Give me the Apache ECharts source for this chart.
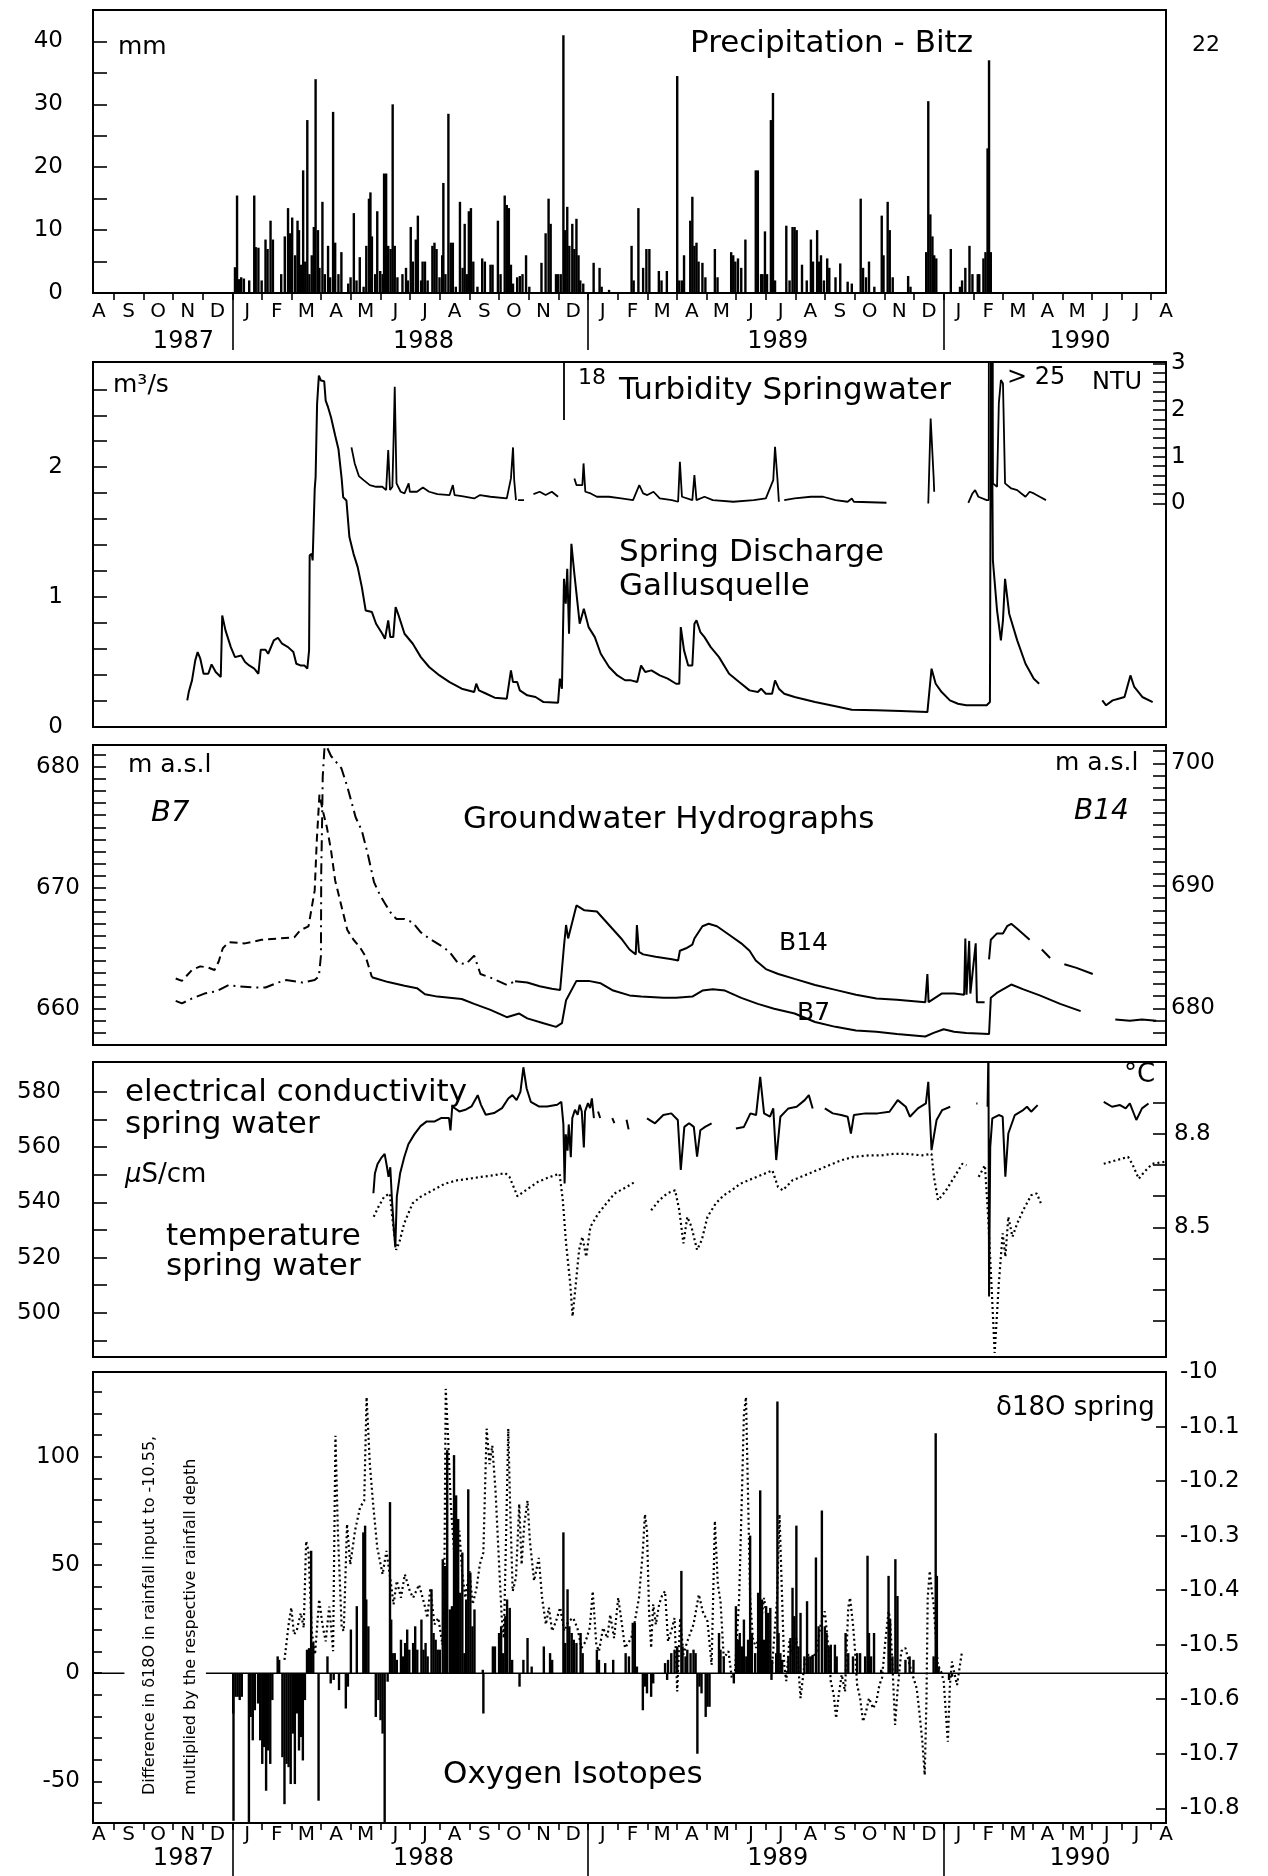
<!DOCTYPE html>
<html><head><meta charset="utf-8">
<script src="https://cdn.jsdelivr.net/npm/echarts@6.0.0/dist/echarts.min.js"></script>
<style>html,body{margin:0;padding:0;background:#fff}#c{width:1268px;height:1876px}</style>
</head><body><div id="c"></div>
<script>
// x values are months counted from 1 Aug 1987 (5 = 1 Jan 1988, 17 = 1 Jan 1989, 29 = 1 Jan 1990)
const MONTH_LETTERS = ['A','S','O','N','D','J','F','M','A','M','J','J'];
const YEAR_LABELS = ['1987','1988','1989','1990'];
const YEAR_LABEL_POS = [3.35, 11.45, 23.4, 33.6];
const YEAR_BREAKS = [5, 17, 29];

const P1_Y_LABELS = [0,10,20,30,40];
const P2_Q_LABELS = [0,1,2];
const P2_NTU_LABELS = [0,1,2,3];
const P3_B7_LABELS = [660,670,680];
const P3_B14_LABELS = [680,690,700];
const P4_EC_LABELS = [500,520,540,560,580];
const P4_T_LABELS = [8.5,8.8];
const P5_DIFF_LABELS = [-50,0,50,100];
const P5_D18O_LABELS = [-10.8,-10.7,-10.6,-10.5,-10.4,-10.3,-10.2,-10.1,-10.0];

// daily precipitation Bitz (mm)
const PRECIP = [[5.09,4.1],[5.16,15.5],[5.23,2.2],[5.30,2.5],[5.39,2.3],[5.57,2],[5.74,15.5],[5.79,7.3],[5.88,7.2],[5.99,2],[6.12,8.5],[6.19,7],[6.29,11.5],[6.37,8.5],[6.65,3],[6.77,9],[6.88,13.5],[6.95,9.5],[7.02,12],[7.12,6],[7.20,11.5],[7.25,10],[7.32,4.5],[7.39,19.5],[7.46,5],[7.53,27.5],[7.60,3],[7.68,6],[7.75,10.5],[7.81,34],[7.89,10],[7.94,4],[8.04,14.5],[8.12,3],[8.23,7.5],[8.30,2.5],[8.40,28.8],[8.47,8],[8.58,3],[8.68,6.5],[8.91,1.5],[8.99,2.5],[9.10,12.7],[9.19,2],[9.30,5.7],[9.43,1],[9.52,7.5],[9.61,15],[9.66,16],[9.71,9],[9.82,3],[9.89,13],[9.99,3.5],[10.07,3],[10.12,19],[10.19,19],[10.26,7.5],[10.34,7],[10.41,30],[10.48,7.5],[10.57,2.5],[10.74,3],[10.86,4],[10.92,2],[11.02,10.5],[11.09,5],[11.19,8.5],[11.26,12.3],[11.37,2],[11.42,5],[11.50,5],[11.59,2],[11.75,7.5],[11.82,8],[11.89,7],[11.99,2.5],[12.08,6],[12.12,17.5],[12.19,3],[12.29,28.5],[12.37,8],[12.44,8],[12.54,1],[12.68,14.5],[12.77,4],[12.84,11],[12.91,3],[12.98,13],[13.05,13.5],[13.13,5],[13.27,1],[13.43,5.5],[13.52,5],[13.71,4.5],[13.78,4.5],[13.96,11.5],[14.05,3],[14.19,15.5],[14.26,14],[14.33,13.5],[14.40,4.5],[14.47,1.5],[14.61,2.5],[14.70,2.7],[14.79,3],[14.91,6],[15.02,1],[15.43,4.8],[15.57,9.5],[15.67,15],[15.74,11],[15.92,3],[15.99,3],[16.08,3],[16.17,41],[16.23,10],[16.30,13.7],[16.37,7.5],[16.47,11],[16.54,7],[16.61,11.8],[16.68,6],[16.74,2],[16.84,1.5],[17.19,4.8],[17.39,4],[17.46,1],[17.71,0.5],[18.47,7.5],[18.54,2],[18.70,13.5],[18.86,4],[18.97,7],[19.07,7],[19.39,3.5],[19.48,2],[19.66,3.5],[20.01,34.5],[20.08,2],[20.17,2],[20.24,6],[20.45,11.5],[20.52,15.3],[20.59,7.5],[20.66,8],[20.73,5],[20.86,4.8],[20.96,2.5],[21.28,7],[21.37,2.5],[21.83,6.5],[21.90,6],[21.97,5],[22.06,5.5],[22.17,4],[22.31,8.5],[22.66,19.5],[22.73,19.5],[22.84,3],[22.89,3],[22.97,9.8],[23.04,3],[23.17,27.5],[23.24,31.8],[23.31,2],[23.69,10.7],[23.80,2],[23.90,10.5],[23.97,10.5],[24.04,10],[24.22,4.5],[24.38,2],[24.52,8.5],[24.59,5],[24.73,10],[24.80,5],[24.86,6],[24.96,2],[25.07,5.5],[25.14,4],[25.35,2.5],[25.51,4.7],[25.76,1.8],[25.90,1.5],[26.20,15],[26.28,4],[26.38,2.5],[26.48,5],[26.66,1],[26.91,12.3],[26.97,6],[27.11,14.5],[27.18,10],[27.28,2.5],[27.80,2.7],[27.88,1],[28.41,6.5],[28.48,30.5],[28.55,12.5],[28.62,9],[28.68,6],[28.75,5.5],[29.24,7],[29.55,1],[29.62,2],[29.73,4],[29.87,7.5],[29.97,3],[30.15,3],[30.20,3],[30.34,5.5],[30.41,6.5],[30.48,23],[30.53,37],[30.59,6.5]];

// spring discharge Gallusquelle (m3/s)
const DISCHARGE = [[3.48,0.205],[3.53,0.269],[3.64,0.359],[3.75,0.513],[3.83,0.577],[3.92,0.526],[4.03,0.41],[4.19,0.41],[4.30,0.482],[4.44,0.423],[4.61,0.385],[4.66,0.859],[4.77,0.744],[4.95,0.615],[5.09,0.538],[5.30,0.551],[5.43,0.5],[5.57,0.474],[5.74,0.449],[5.88,0.41],[5.96,0.595],[6.12,0.595],[6.21,0.564],[6.40,0.667],[6.54,0.687],[6.68,0.641],[6.88,0.615],[7.06,0.577],[7.16,0.487],[7.30,0.474],[7.43,0.474],[7.53,0.449],[7.59,0.59],[7.61,1.321],[7.68,1.333],[7.71,1.282],[7.78,1.833],[7.81,1.923],[7.86,2.487],[7.92,2.705],[7.99,2.667],[8.10,2.662],[8.15,2.513],[8.23,2.462],[8.33,2.385],[8.47,2.244],[8.58,2.141],[8.69,1.91],[8.74,1.769],[8.85,1.744],[8.95,1.462],[9.09,1.333],[9.23,1.231],[9.37,1.077],[9.50,0.897],[9.71,0.885],[9.85,0.795],[10.06,0.718],[10.15,0.679],[10.26,0.821],[10.33,0.692],[10.43,0.692],[10.51,0.923],[10.61,0.859],[10.81,0.718],[11.09,0.641],[11.36,0.538],[11.64,0.462],[11.99,0.397],[12.33,0.346],[12.74,0.295],[13.16,0.269],[13.23,0.333],[13.32,0.282],[13.57,0.256],[13.85,0.226],[14.26,0.218],[14.40,0.436],[14.47,0.346],[14.61,0.346],[14.70,0.282],[14.95,0.244],[15.23,0.231],[15.50,0.192],[15.99,0.187],[16.05,0.372],[16.12,0.295],[16.19,1.141],[16.25,0.949],[16.30,1.218],[16.36,0.718],[16.44,1.41],[16.54,1.179],[16.72,0.795],[16.86,0.91],[17.02,0.769],[17.23,0.692],[17.43,0.564],[17.71,0.462],[17.99,0.397],[18.25,0.36],[18.45,0.359],[18.66,0.346],[18.79,0.474],[18.93,0.423],[19.14,0.436],[19.42,0.397],[19.69,0.372],[19.97,0.333],[20.08,0.333],[20.13,0.769],[20.24,0.59],[20.38,0.474],[20.52,0.474],[20.59,0.795],[20.66,0.821],[20.79,0.731],[20.93,0.692],[21.14,0.615],[21.42,0.538],[21.76,0.41],[22.10,0.346],[22.45,0.282],[22.73,0.269],[22.84,0.295],[23.0,0.256],[23.21,0.256],[23.31,0.359],[23.44,0.295],[23.62,0.256],[23.97,0.231],[24.66,0.192],[25.35,0.159],[25.90,0.133],[26.73,0.128],[27.55,0.123],[28.45,0.115],[28.59,0.449],[28.73,0.333],[28.93,0.269],[29.21,0.205],[29.48,0.179],[29.76,0.167],[30.45,0.167],[30.56,0.192],[30.60,3.3],[30.66,1.282],[30.80,0.897],[30.93,0.667],[31.0,0.821],[31.07,1.141],[31.21,0.872],[31.48,0.667],[31.76,0.487],[32.04,0.372],[32.22,0.333],null,[34.35,0.205],[34.48,0.167],[34.7,0.205],[34.9,0.218],[35.1,0.231],[35.3,0.397],[35.43,0.308],[35.7,0.231],[36.05,0.192]];

// turbidity spring water (NTU)
const TURBIDITY = [[9.02,1.2],[9.13,0.857],[9.27,0.586],[9.43,0.5],[9.64,0.393],[9.85,0.357],[10.06,0.357],[10.19,0.286],[10.26,1.143],[10.32,0.286],[10.40,0.357],[10.44,1.357],[10.48,2.5],[10.54,0.429],[10.68,0.25],[10.81,0.214],[10.95,0.429],[10.99,0.25],[11.23,0.25],[11.43,0.343],[11.64,0.25],[11.92,0.2],[12.33,0.179],[12.44,0.393],[12.50,0.179],[12.74,0.157],[13.16,0.107],[13.36,0.179],[13.71,0.143],[14.26,0.107],[14.40,0.536],[14.47,1.2],[14.51,0.5],[14.57,0.071],null,[14.64,0.071],[14.84,0.071],null,[15.16,0.2],[15.37,0.25],[15.57,0.179],[15.78,0.25],[15.99,0.143],null,[16.19,1.786],[16.19,18],null,[16.54,0.536],[16.61,0.393],[16.81,0.393],[16.85,0.857],[16.91,0.25],[17.09,0.214],[17.30,0.143],[17.71,0.143],[18.12,0.107],[18.52,0.071],[18.73,0.393],[18.86,0.214],[19.0,0.179],[19.21,0.25],[19.42,0.107],[19.83,0.071],[20.04,0.036],[20.10,0.893],[20.17,0.143],[20.52,0.071],[20.59,0.607],[20.66,0.071],[20.93,0.143],[21.21,0.071],[21.90,0.036],[22.59,0.071],[23.0,0.107],[23.25,0.5],[23.31,1.214],[23.39,0.536],[23.44,0.036],null,[23.62,0.071],[23.97,0.107],[24.52,0.143],[24.93,0.143],[25.35,0.071],[25.76,0.036],[25.90,0.107],[25.97,0.036],[27.07,0.014],null,[28.48,0],[28.56,1.821],[28.66,0.571],[28.68,0.25],null,[29.83,0.014],[29.97,0.214],[30.06,0.286],[30.17,0.143],[30.45,0.071],[30.52,0.071],[30.55,30],[30.62,30],[30.66,0.429],[30.80,0.357],[30.86,2.143],[30.93,2.643],[31.0,2.571],[31.07,0.429],[31.28,0.321],[31.48,0.286],[31.62,0.214],[31.76,0.143],[31.90,0.25],[32.04,0.214],[32.24,0.143],[32.45,0.071]];

// groundwater levels (m a.s.l.)
const B7_DASHED = [[3.09,662.5],[3.30,662.3],[3.64,663.2],[3.92,663.5],[4.19,663.4],[4.40,663.2],[4.54,663.9],[4.68,665.0],[4.88,665.5],[5.43,665.4],[5.99,665.7],[6.54,665.8],[7.09,665.9],[7.30,666.5],[7.57,666.8],[7.78,669.8],[7.85,673.9],[7.94,677.7],[8.05,676.4],[8.19,675.0],[8.33,673.1],[8.47,670.6],[8.61,669.2],[8.74,667.9],[8.88,666.5],[9.09,665.7],[9.30,665.1],[9.50,664.3],[9.71,662.6]];
const B7_SOLID = [[9.71,662.6],[9.85,662.5],[10.26,662.2],[10.81,661.9],[11.23,661.7],[11.50,661.2],[11.92,661.0],[12.33,660.9],[12.74,660.8],[13.16,660.4],[13.71,659.9],[14.26,659.3],[14.68,659.6],[14.95,659.2],[15.50,658.8],[15.92,658.5],[16.12,658.8],[16.26,660.7],[16.61,662.3],[17.02,662.3],[17.43,662.1],[17.85,661.5],[18.40,661.1],[18.79,661.0],[19.55,660.9],[19.97,660.9],[20.52,661.0],[20.86,661.5],[21.21,661.6],[21.62,661.5],[22.17,660.9],[22.73,660.4],[23.28,660.0],[23.97,659.6],[24.66,658.9],[25.35,658.5],[26.04,658.2],[26.73,658.1],[27.42,657.9],[28.38,657.7],[28.66,658.0],[29.0,658.3],[29.35,658.1],[29.76,658.0],[30.53,657.9],[30.59,660.9],[30.79,661.3],[31.28,662.0],[31.69,661.6],[32.24,661.1],[32.93,660.4],[33.62,659.8],null,[34.79,659.1],[35.28,659.0],[35.69,659.1],[36.17,659.0]];
const B14_DASHDOT = [[3.09,680.6],[3.30,680.4],[3.64,680.8],[4.06,681.2],[4.47,681.4],[4.88,681.9],[5.16,681.8],[5.71,681.7],[6.12,681.7],[6.54,682.1],[6.81,682.3],[7.09,682.2],[7.37,682.1],[7.78,682.3],[7.92,682.6],[7.99,684.3],[8.00,691.2],[8.03,695.3],[8.05,698.9],[8.12,701.7],[8.33,700.6],[8.68,699.6],[8.88,698.1],[9.16,695.6],[9.37,694.5],[9.57,692.6],[9.78,690.3],[9.99,689.2],[10.19,688.4],[10.40,687.6],[10.54,687.3],[10.81,687.3],[11.09,687.0],[11.36,686.2],[11.64,685.7],[12.05,685.1],[12.33,684.6],[12.61,683.7],[12.88,683.6],[13.16,684.3],[13.37,682.8],[13.71,682.5],[14.26,681.9],[14.54,682.2]];
const B14_SOLID = [[14.54,682.2],[14.95,682.1],[15.37,681.8],[15.78,681.6],[16.06,681.5],[16.19,685.1],[16.26,686.8],[16.33,685.7],[16.61,688.4],[16.88,688.0],[17.30,687.9],[17.71,686.8],[18.12,685.7],[18.40,684.8],[18.61,684.4],[18.65,686.8],[18.72,684.6],[18.86,684.4],[19.28,684.2],[19.83,684.0],[20.04,683.9],[20.10,684.7],[20.31,684.9],[20.52,685.2],[20.59,685.7],[20.86,686.7],[21.07,686.9],[21.35,686.7],[21.76,686.0],[22.17,685.3],[22.45,684.7],[22.66,683.9],[23.0,683.2],[23.42,682.8],[23.97,682.4],[24.66,681.9],[25.35,681.5],[26.04,681.1],[26.73,680.8],[27.42,680.7],[28.38,680.5],[28.45,682.8],[28.49,680.5],[28.93,681.2],[29.35,681.2],[29.69,681.1],[29.73,685.7],[29.77,681.1],[29.86,685.5],[29.90,681.2],[30.08,685.3],[30.12,680.5],[30.38,680.5],null,[30.53,684.0],[30.59,685.6],[30.79,686.1],[31.0,686.1],[31.14,686.7],[31.28,686.9],[31.48,686.5],[31.90,685.6],null,[32.31,684.8],[32.59,684.1],null,[33.07,683.6],[33.48,683.3],[34.03,682.8]];

// electrical conductivity (uS/cm) and temperature (degC) of spring water
const COND = [[9.76,543.3],[9.81,550.4],[9.90,553.9],[10.04,556.3],[10.14,557.5],[10.22,552.7],[10.27,549.2],[10.33,552.7],[10.38,542.1],[10.45,530.2],[10.50,523.7],[10.55,542.1],[10.66,550.4],[10.80,556.3],[10.94,561.0],[11.14,564.6],[11.35,567.6],[11.56,569.3],[11.83,569.3],[12.04,570.5],[12.31,570.5],[12.36,566],[12.42,574.7],[12.66,572.9],[12.86,573.5],[13.07,574.7],[13.28,578.8],[13.39,575.3],[13.55,571.7],[13.83,572.3],[14.10,574.1],[14.31,577.6],[14.45,578.8],[14.59,577.0],[14.72,580.0],[14.82,588.9],[14.93,581.2],[15.07,576.4],[15.34,574.7],[15.62,574.7],[15.96,575.3],[16.10,576.4],[16.17,568.2],[16.21,546.8],[16.25,564.6],[16.31,558.7],[16.35,568.2],[16.42,556.3],[16.47,570.5],[16.56,573.5],[16.65,571.7],[16.72,575.3],[16.79,572.9],[16.86,559.9],[16.90,572.9],[17.00,575.9],[17.07,574.1],[17.13,577.6],[17.20,570.5],null,[17.34,572.9],[17.41,570.5],null,[17.82,570.5],[17.89,568.7],null,[18.30,569.9],[18.37,566.4],null,[18.99,570.4],[19.26,568.6],[19.54,571.6],[19.81,572.2],[20.03,569.8],[20.13,551.7],[20.25,567.3],[20.41,568.6],[20.57,567.3],[20.68,556.5],[20.79,566.1],[20.95,567.3],[21.17,568.6],null,[21.99,566.7],[22.26,567.3],[22.48,572.2],[22.67,571.6],[22.81,585.4],[22.94,572.2],[23.14,571.0],[23.25,574.0],[23.35,555.3],[23.49,571.0],[23.76,574.0],[24.04,574.6],[24.31,577.0],[24.45,578.8],[24.58,574.0],null,[24.99,574.0],[25.26,572.2],[25.54,571.6],[25.76,571.0],[25.87,564.9],[25.97,571.6],[26.36,572.2],[26.77,572.2],[27.17,572.8],[27.45,577.0],[27.72,574.6],[27.86,571.0],[28.13,574.0],[28.40,575.8],[28.48,583.6],[28.59,558.9],[28.76,569.8],[28.95,573.4],[29.22,574.6],null,[30.10,575.8],[30.14,575.8],null,[30.48,574.6],[30.51,596],[30.53,505.9],[30.57,560],[30.64,570.4],[30.86,571.6],[30.99,571.0],[31.08,549.3],[31.18,564.9],[31.40,571.6],[31.68,573.4],[31.81,574.6],[31.95,572.8],[32.17,575.2],null,[34.40,576.4],[34.68,574.6],[34.95,575.2],[35.14,574.0],[35.28,575.8],[35.50,569.8],[35.69,574.0],[35.91,575.8]];
const TEMP = [[9.77,8.534],[9.93,8.566],[10.12,8.598],[10.31,8.609],[10.42,8.513],[10.53,8.428],[10.64,8.454],[10.80,8.513],[11.08,8.577],[11.35,8.598],[11.76,8.619],[12.17,8.640],[12.58,8.651],[12.99,8.656],[13.40,8.662],[13.81,8.667],[14.21,8.674],[14.35,8.662],[14.62,8.600],[14.90,8.619],[15.31,8.646],[15.72,8.662],[16.04,8.672],[16.15,8.587],[16.26,8.449],[16.40,8.321],[16.48,8.215],[16.59,8.321],[16.70,8.428],[16.81,8.470],[16.94,8.406],[17.08,8.502],[17.35,8.545],[17.62,8.577],[17.90,8.609],[18.31,8.630],[18.58,8.646],null,[19.13,8.555],[19.40,8.587],[19.67,8.609],[19.94,8.619],[20.08,8.555],[20.22,8.449],[20.35,8.534],[20.49,8.502],[20.68,8.428],[20.84,8.460],[21.03,8.534],[21.31,8.577],[21.58,8.603],[21.85,8.619],[22.13,8.640],[22.54,8.656],[22.95,8.672],[23.22,8.683],[23.41,8.630],[23.57,8.619],[23.90,8.651],[24.31,8.667],[24.72,8.683],[25.13,8.699],[25.54,8.715],[25.95,8.726],[26.49,8.731],[26.90,8.731],[27.31,8.736],[27.72,8.736],[28.27,8.731],[28.59,8.736],[28.67,8.662],[28.81,8.587],[29.08,8.619],[29.36,8.662],[29.63,8.704],[29.77,8.699],null,[30.18,8.662],[30.39,8.699],[30.50,8.534],[30.61,8.321],[30.72,8.098],[30.86,8.321],[30.99,8.481],[31.08,8.406],[31.18,8.534],[31.32,8.470],[31.48,8.513],[31.68,8.555],[31.95,8.603],[32.14,8.609],[32.28,8.577],null,[34.40,8.704],[34.81,8.715],[35.22,8.726],[35.36,8.704],[35.58,8.656],[35.77,8.678],[36.04,8.704],[36.45,8.710]];

// difference in rainfall d18O to -10.55, multiplied by rainfall depth
const ISO_BARS = [[5.03,-18.6],[5.04,-68.2],[5.11,-10.9],[5.18,-10.9],[5.25,-12.4],[5.32,-10.9],[5.56,-69.8],[5.62,-20.2],[5.69,-31],[5.76,-17.1],[5.87,-14],[5.94,-31],[6.01,-41.9],[6.07,-34.1],[6.14,-54.3],[6.21,-35.7],[6.28,-41.9],[6.35,-12.4],[6.53,7.8],[6.58,6.2],[6.69,-38.8],[6.76,-60.5],[6.83,-41.9],[6.90,-43.4],[6.97,-51.2],[7.04,-27.9],[7.11,-51.2],[7.18,-18.6],[7.25,-35.7],[7.31,-29.5],[7.38,-40.3],[7.45,-12.4],[7.52,10.9],[7.59,11.6],[7.66,56.6],[7.73,14],[7.91,-58.9],[8.21,7.8],[8.32,-4.7],[8.42,-3.1],[8.60,-7.8],[8.83,-16.3],[8.90,-6.2],[9.00,20.2],[9.20,31],[9.42,65.1],[9.48,68.2],[9.52,34.1],[9.59,21.7],[9.84,-20.2],[9.93,-12.4],[10.00,-21.7],[10.07,-27.9],[10.14,-69],[10.24,-3.9],[10.32,79.1],[10.36,24.8],[10.41,9.3],[10.48,9.3],[10.55,6.2],[10.69,15.5],[10.76,7.8],[10.83,14],[10.90,20.2],[10.97,10.9],[11.10,14],[11.17,21.7],[11.24,10.9],[11.38,24.8],[11.45,10.9],[11.52,14],[11.59,7.8],[11.72,38.8],[11.79,18.6],[11.86,15.5],[11.93,10.9],[12.00,10.9],[12.10,52.7],[12.18,49.6],[12.25,103.1],[12.34,29.5],[12.41,31],[12.48,100.8],[12.55,82.2],[12.62,71.3],[12.69,37.2],[12.76,55.8],[12.83,9.3],[12.89,34.1],[12.96,85],[13.03,46.5],[13.10,21.7],[13.17,29.5],[13.45,1.6],[13.47,-18.6],[13.79,12.4],[13.86,12.4],[14.00,18.6],[14.07,21.7],[14.14,9.3],[14.21,26.4],[14.27,34.1],[14.36,30.2],[14.44,6.2],[14.69,-6.2],[14.82,6.2],[14.96,16.3],[15.10,3.1],[15.51,12.4],[15.72,9.3],[15.79,6.2],[16.17,65.1],[16.23,14],[16.31,38.8],[16.37,21.7],[16.45,18.6],[16.52,15.5],[16.61,14],[16.75,18.6],[16.82,9.3],[17.30,10.9],[17.37,6.2],[17.58,4.7],[17.85,6.2],[18.27,9.3],[18.38,7.8],[18.51,23.3],[18.58,23.3],[18.65,3.1],[18.85,-17.1],[18.92,-6.2],[18.99,-9.3],[19.13,-10.9],[19.20,-4.7],[19.60,4.7],[19.67,-3.1],[19.70,6.2],[19.81,9.3],[19.92,10.9],[20.01,12.4],[20.15,47.3],[20.19,12.4],[20.29,7.8],[20.35,10.9],[20.46,9.3],[20.56,10.9],[20.63,9.3],[20.69,-37.2],[20.76,-6.2],[20.83,-9.3],[20.97,-20.2],[21.03,-15.5],[21.10,-15.5],[21.42,18.6],[21.47,10.9],[21.58,7.8],[21.92,-4.7],[21.99,31],[22.06,15.5],[22.12,18.6],[22.19,12.4],[22.26,24.8],[22.34,7.8],[22.40,15.5],[22.47,63.6],[22.53,18.6],[22.64,9.3],[22.74,37.2],[22.81,84.5],[22.87,34.1],[22.94,15.5],[23.01,31],[23.08,27.9],[23.15,30.2],[23.19,-3.1],[23.21,6.2],[23.35,9.3],[23.39,125.6],[23.43,18.6],[23.49,9.3],[23.55,6.2],[23.76,7.8],[23.83,16.3],[23.90,39.5],[23.96,26.4],[24.03,68.2],[24.10,12.4],[24.17,27.9],[24.30,7.8],[24.39,33.3],[24.44,7.8],[24.51,7.8],[24.58,8.5],[24.69,53.5],[24.78,21.7],[24.89,75.2],[24.99,21.7],[25.05,18.6],[25.12,12.4],[25.19,13.2],[25.33,13.2],[25.39,7.8],[25.69,18.6],[25.78,9.3],[25.94,7.8],[26.08,9.3],[26.18,9.3],[26.35,7.8],[26.43,54.3],[26.48,18.6],[26.55,7.8],[26.65,18.6],[26.89,1.6],[27.14,45],[27.19,24.8],[27.27,7.8],[27.37,52.7],[27.44,35.7],[27.71,6.2],[27.85,7.8],[27.98,6.2],[28.66,7.8],[28.73,110.9],[28.77,45],[28.83,3.1],[29.18,-3.1],[29.28,-1.6]];
const ISO_ZERO = [[0.3,0],[1.36,0],null,[4.11,0],[36.9,0]];

// d18O of spring water (permil)
const D18O = [[6.76,-10.528],[6.90,-10.463],[6.99,-10.432],[7.08,-10.481],[7.17,-10.475],[7.31,-10.442],[7.41,-10.469],[7.49,-10.310],[7.57,-10.328],[7.68,-10.475],[7.79,-10.518],[7.93,-10.417],[8.04,-10.463],[8.15,-10.494],[8.27,-10.430],[8.40,-10.512],[8.48,-10.117],[8.56,-10.291],[8.69,-10.469],[8.76,-10.475],[8.87,-10.279],[8.98,-10.353],[9.14,-10.291],[9.31,-10.248],[9.45,-10.236],[9.53,-10.046],[9.64,-10.169],[9.75,-10.242],[9.89,-10.322],[10.07,-10.371],[10.20,-10.328],[10.34,-10.383],[10.44,-10.426],[10.55,-10.383],[10.69,-10.414],[10.82,-10.371],[10.99,-10.402],[11.10,-10.414],[11.30,-10.390],[11.48,-10.426],[11.58,-10.451],[11.68,-10.396],[11.82,-10.463],[11.95,-10.451],[12.09,-10.500],[12.15,-10.414],[12.20,-10.031],[12.28,-10.120],[12.37,-10.242],[12.48,-10.328],[12.59,-10.353],[12.66,-10.291],[12.75,-10.365],[12.86,-10.414],[13.00,-10.365],[13.11,-10.426],[13.24,-10.396],[13.35,-10.353],[13.47,-10.331],[13.58,-10.104],[13.68,-10.169],[13.77,-10.135],[13.88,-10.218],[13.99,-10.341],[14.09,-10.451],[14.16,-10.488],[14.24,-10.291],[14.31,-10.104],[14.38,-10.261],[14.46,-10.402],[14.57,-10.377],[14.68,-10.242],[14.76,-10.353],[14.85,-10.279],[14.96,-10.236],[15.04,-10.310],[15.18,-10.383],[15.34,-10.341],[15.45,-10.414],[15.58,-10.463],[15.68,-10.432],[15.79,-10.475],[15.92,-10.457],[16.06,-10.432],[16.20,-10.475],[16.34,-10.457],[16.50,-10.451],[16.64,-10.469],[16.78,-10.506],[16.92,-10.494],[17.06,-10.469],[17.16,-10.402],[17.28,-10.500],[17.37,-10.512],[17.51,-10.469],[17.65,-10.488],[17.75,-10.445],[17.88,-10.488],[18.02,-10.414],[18.13,-10.457],[18.25,-10.506],[18.46,-10.488],[18.58,-10.457],[18.72,-10.414],[18.85,-10.328],[18.92,-10.261],[18.99,-10.291],[19.06,-10.439],[19.13,-10.506],[19.20,-10.426],[19.29,-10.463],[19.40,-10.426],[19.51,-10.408],[19.60,-10.402],[19.70,-10.494],[19.81,-10.475],[19.92,-10.451],[20.01,-10.586],[20.11,-10.451],[20.22,-10.518],[20.35,-10.494],[20.56,-10.463],[20.74,-10.408],[20.87,-10.439],[21.03,-10.457],[21.17,-10.537],[21.28,-10.273],[21.38,-10.390],[21.47,-10.420],[21.58,-10.525],[21.74,-10.512],[21.85,-10.561],[21.96,-10.549],[22.10,-10.414],[22.19,-10.230],[22.26,-10.077],[22.33,-10.046],[22.40,-10.230],[22.47,-10.414],[22.56,-10.488],[22.67,-10.506],[22.81,-10.469],[22.94,-10.414],[23.08,-10.475],[23.19,-10.555],[23.28,-10.488],[23.38,-10.414],[23.46,-10.261],[23.53,-10.383],[23.62,-10.537],[23.69,-10.567],[23.79,-10.494],[23.90,-10.518],[24.03,-10.488],[24.17,-10.598],[24.30,-10.537],[24.44,-10.518],[24.58,-10.525],[24.71,-10.512],[24.85,-10.463],[24.99,-10.439],[25.12,-10.512],[25.19,-10.567],[25.29,-10.592],[25.37,-10.635],[25.46,-10.592],[25.56,-10.555],[25.67,-10.586],[25.78,-10.432],[25.84,-10.414],[25.94,-10.463],[26.01,-10.512],[26.08,-10.574],[26.18,-10.598],[26.28,-10.641],[26.38,-10.623],[26.48,-10.598],[26.62,-10.617],[26.73,-10.604],[26.83,-10.574],[26.92,-10.561],[27.03,-10.494],[27.14,-10.439],[27.19,-10.451],[27.27,-10.537],[27.36,-10.647],[27.44,-10.586],[27.57,-10.512],[27.71,-10.506],[27.85,-10.537],[27.98,-10.561],[28.09,-10.580],[28.19,-10.629],[28.28,-10.678],[28.36,-10.739],[28.42,-10.598],[28.46,-10.414],[28.53,-10.365],[28.60,-10.402],[28.66,-10.426],[28.80,-10.537],[28.91,-10.549],[29.00,-10.567],[29.07,-10.623],[29.14,-10.678],[29.21,-10.574],[29.28,-10.531],[29.37,-10.555],[29.45,-10.574],[29.55,-10.537],[29.62,-10.512]];

// ---------- option building ----------
const FONT = 'DejaVu Sans';
const X_MIN = 0.3, X_MAX = 36.5;
const MONTH_BOUNDS = []; for (let k = 1; k <= 36; k++) MONTH_BOUNDS.push(k);
const MONTH_CENTERS = []; for (let k = 0; k <= 36; k++) MONTH_CENTERS.push(k + 0.5);
function seq(a, b, step) { const out = []; for (let v = a; v <= b + 1e-9; v += step) out.push(+v.toFixed(4)); return out; }
function pts(arr) { return arr.map(p => p === null ? ['-', '-'] : p); }
function nearestIdx(list, v) { let bi = 0; list.forEach((x, i) => { if (Math.abs(x - v) < Math.abs(list[bi] - v)) bi = i; }); return bi; }

const G = [
  { top: 10, height: 283 },
  { top: 362, height: 365 },
  { top: 745, height: 300 },
  { top: 1062, height: 295 },
  { top: 1372, height: 451 }
];
const grid = G.map(g => ({ left: 93, right: 102, top: g.top, height: g.height, show: true,
  borderColor: '#000', borderWidth: 2, backgroundColor: 'transparent', containLabel: false, outerBoundsMode: 'none' }));

const TICK = { color: '#000', width: 1.6 };
function baseX(gi, extra) {
  return Object.assign({ type: 'value', gridIndex: gi, min: X_MIN, max: X_MAX, position: 'bottom',
    axisLine: { show: false, onZero: false }, axisTick: { show: false }, axisLabel: { show: false },
    splitLine: { show: false } }, extra || {});
}
function monthAxis(gi, margin) {
  return baseX(gi, {
    axisTick: { show: true, inside: false, length: 7, customValues: MONTH_BOUNDS, lineStyle: TICK },
    axisLabel: { show: true, customValues: MONTH_CENTERS, margin: margin, fontSize: 20, fontFamily: FONT, color: '#000',
      formatter: v => MONTH_LETTERS[Math.floor(v) % 12] }
  });
}
function yearAxis(gi, margin, len) {
  return baseX(gi, {
    axisTick: { show: true, inside: false, length: len, customValues: YEAR_BREAKS, lineStyle: TICK },
    axisLabel: { show: true, customValues: YEAR_LABEL_POS, margin: margin, fontSize: 24, fontFamily: FONT, color: '#000',
      formatter: v => YEAR_LABELS[nearestIdx(YEAR_LABEL_POS, v)] }
  });
}
function yAx(gi, pos, min, max, ticks, labels, margin, tickLen, fmt) {
  return { type: 'value', gridIndex: gi, position: pos, min: min, max: max,
    axisLine: { show: false, onZero: false }, splitLine: { show: false },
    axisTick: { show: true, inside: true, length: tickLen, customValues: ticks, lineStyle: TICK },
    axisLabel: { show: true, customValues: labels, margin: margin, fontSize: 23, fontFamily: FONT, color: '#000',
      formatter: fmt || (v => String(v)) } };
}

const xAxis = [
  monthAxis(0, 9),          // 0
  yearAxis(0, 37, 57),      // 1
  baseX(1),                 // 2
  baseX(2),                 // 3
  baseX(3),                 // 4
  monthAxis(4, 2),          // 5
  yearAxis(4, 24, 53)       // 6
];
const yAxis = [
  yAx(0, 'left', 0, 45, seq(5, 40, 5), P1_Y_LABELS, 30, 14),
  yAx(1, 'left', 0, 2.81, seq(0.2, 2.6, 0.2), P2_Q_LABELS, 30, 14),
  yAx(1, 'right', -4.79, 3.03, seq(0, 3, 0.2), P2_NTU_LABELS, 5, 13),
  yAx(2, 'left', 657.0, 681.8, seq(658, 681, 1), P3_B7_LABELS, 13, 13),
  yAx(2, 'right', 677.0, 701.5, seq(678, 701, 1), P3_B14_LABELS, 5, 13),
  yAx(3, 'left', 484, 590.8, seq(490, 580, 10), P4_EC_LABELS, 32, 14),
  yAx(3, 'right', 8.085, 9.03, seq(8.2, 8.9, 0.1), P4_T_LABELS, 8, 13, v => v.toFixed(1)),
  yAx(4, 'left', -69.2, 139.2, seq(-60, 130, 10), P5_DIFF_LABELS, 13, 9),
  yAx(4, 'right', -10.827, -10.0, seq(-10.8, -10.1, 0.1), P5_D18O_LABELS, 14, 10,
      v => (Math.abs(v + 10) < 1e-6 ? '-10' : v.toFixed(1)))
];

function line(xi, yi, data, width, type, clip) {
  return { type: 'line', xAxisIndex: xi, yAxisIndex: yi, data: pts(data), showSymbol: false, symbol: 'none',
    connectNulls: false, clip: clip !== false, lineStyle: { color: '#000', width: width, type: type || 'solid' }, z: 3 };
}
function bars(xi, yi, data) {
  return { type: 'bar', xAxisIndex: xi, yAxisIndex: yi, data: data, barWidth: 2.4, clip: true,
    itemStyle: { color: '#000' }, z: 2 };
}

const series = [
  bars(0, 0, PRECIP),
  line(2, 1, DISCHARGE, 2),
  line(2, 2, TURBIDITY, 1.8),
  line(3, 3, B7_DASHED, 2, [8, 5]),
  line(3, 3, B7_SOLID, 2),
  line(3, 4, B14_DASHDOT, 2, [11, 5, 2, 5]),
  line(3, 4, B14_SOLID, 2),
  line(4, 5, COND, 2),
  line(4, 6, TEMP, 2.2, [2, 3]),
  bars(5, 7, ISO_BARS),
  line(5, 7, ISO_ZERO, 1.6, 'solid', false),
  line(5, 8, D18O, 2.2, [2, 3])
];

function txt(t, x, y, size, italic) {
  return { type: 'text', x: x, y: y, silent: true, z: 10,
    style: { text: t, fontSize: size, fontFamily: FONT, fontStyle: italic ? 'italic' : 'normal', fill: '#000',
      textAlign: 'left', textVerticalAlign: 'middle', align: 'left', verticalAlign: 'middle' } };
}
const unitEC = txt('{i|µ}S/cm', 125, 1175, 26);
unitEC.style.rich = { i: { fontStyle: 'italic', fontSize: 26, fontFamily: FONT, fill: '#000' } };

const graphic = [
  txt('mm', 118, 47, 25),
  txt('Precipitation - Bitz', 690, 44, 31),
  txt('22', 1192, 45, 22),
  txt('m³/s', 113, 385, 25),
  txt('18', 578, 378, 22),
  txt('Turbidity Springwater', 619, 391, 31),
  txt('> 25', 1007, 378, 24),
  txt('NTU', 1092, 383, 24),
  txt('Spring Discharge', 619, 553, 31),
  txt('Gallusquelle', 619, 587, 31),
  txt('m a.s.l', 128, 765, 25),
  txt('B7', 151, 813, 29, true),
  txt('Groundwater Hydrographs', 463, 820, 31),
  txt('m a.s.l', 1055, 763, 25),
  txt('B14', 1074, 812, 28, true),
  txt('B14', 779, 943, 25),
  txt('B7', 797, 1013, 25),
  txt('electrical conductivity', 125, 1093, 31),
  txt('spring water', 125, 1125, 31),
  unitEC,
  txt('temperature', 166, 1237, 31),
  txt('spring water', 166, 1267, 31),
  txt('°C', 1124, 1075, 26),
  txt('δ18O spring', 996, 1408, 26),
  txt('Oxygen Isotopes', 443, 1775, 31),
  Object.assign(txt('Difference in δ18O in rainfall input to -10.55,', 150, 1795, 16), { rotation: Math.PI / 2 }),
  Object.assign(txt('multiplied by the respective rainfall depth', 191, 1795, 16), { rotation: Math.PI / 2 })
];

const chart = echarts.init(document.getElementById('c'), null, { renderer: 'canvas' });
chart.setOption({
  backgroundColor: '#fff',
  animation: false,
  textStyle: { fontFamily: FONT, color: '#000' },
  grid: grid, xAxis: xAxis, yAxis: yAxis, series: series, graphic: graphic
});
</script></body></html>
